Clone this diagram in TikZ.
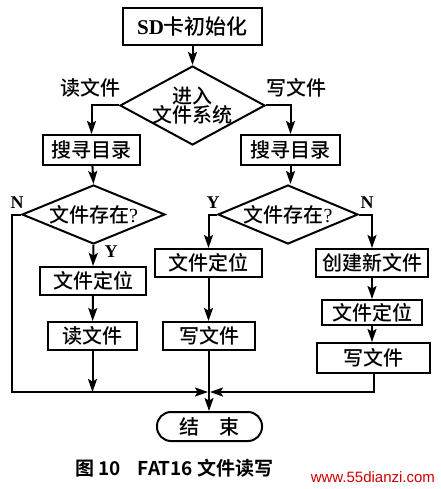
\documentclass[tikz,border=0pt]{standalone}
\usepackage{fontspec}
\setmainfont{Liberation Serif}
\newfontfamily\cjk{Noto Sans CJK SC Medium}
\newfontfamily\cjkb{Noto Sans CJK SC Bold}
\newfontfamily\lsans{Liberation Sans}
\usetikzlibrary{shapes.geometric,arrows.meta}
\begin{document}
\begin{tikzpicture}[x=1pt,y=-1pt,
  line width=2pt,
  every node/.style={inner sep=0pt},
  box/.style={draw,rectangle,font=\cjk\fontsize{20}{22}\selectfont},
  dia/.style={draw,diamond,minimum width=#1},
  lbl/.style={font=\cjk\fontsize{20}{22}\selectfont},
  yn/.style={font=\rmfamily\bfseries\fontsize{18}{19}\selectfont},
  arr/.style={-{Stealth[length=13pt,width=9pt,inset=2.5pt]}}]
\useasboundingbox (0,0) rectangle (440,489);
\node[box,minimum width=139pt,minimum height=37pt] (init) at (192.5,26.5)
  {\fontsize{21}{22}\selectfont{\rmfamily\bfseries SD}卡初始化};
\node[dia=145pt,minimum height=79pt,
  label={[lbl,align=center]center:进入\\[-3pt]文件系统}] (sys) at (192.5,105.5) {};
\node[box,minimum width=97pt,minimum height=30pt] (s1) at (91.5,150) {搜寻目录};
\node[box,minimum width=99pt,minimum height=30pt] (s2) at (290.5,150) {搜寻目录};
\node[dia=143pt,minimum height=59pt,
  label={[lbl]center:文件存在{\rmfamily ?}}] (e1) at (93.5,214.5) {};
\node[dia=140pt,minimum height=59pt,
  label={[lbl]center:文件存在{\rmfamily ?}}] (e2) at (288,214.5) {};
\node[box,minimum width=106pt,minimum height=28pt] (p1) at (93,281) {文件定位};
\node[box,minimum width=89pt,minimum height=28pt] (r1) at (92.5,336) {读文件};
\node[box,minimum width=107pt,minimum height=28pt] (p2) at (208.5,263) {文件定位};
\node[box,minimum width=92pt,minimum height=28pt] (w2) at (209,336) {写文件};
\node[box,minimum width=112pt,minimum height=28pt] (c3) at (372,263) {创建新文件};
\node[box,minimum width=100pt,minimum height=25pt] (p3) at (372,312.5) {文件定位};
\node[box,minimum width=113pt,minimum height=30pt] (w3) at (373.5,358) {写文件};
\node[box,rounded corners=14pt,minimum width=105pt,minimum height=29pt] (end) at (209.5,426.5) {结\hspace{1em}束};
\coordinate (j) at (209,392);
\coordinate (bl) at (12,392);
% labels
\node[lbl] (lr) at (90,88) {读文件};
\node[lbl] (lw) at (296,88) {写文件};
\node[yn] (n1) at (17,203) {N};
\node[yn] (y1) at (111,252) {Y};
\node[yn] (y2) at (213,203) {Y};
\node[yn] (n2) at (367,203) {N};
% connectors
\draw[arr] (init) -- (sys.north);
\draw[arr] (sys.west) -| (s1.north);
\draw[arr] (sys.east) -| (s2.north);
\draw[arr] (s1) -- (e1.north);
\draw[arr] (s2.south) -- (s2.south |- e2.north);
\draw[arr] (e1.south) -- (p1.north);
\draw[arr] (p1) -- (r1);
\draw[arr] (r1.south) -- (r1.south |- j);
\draw[arr] (e1.west) -| (bl) -- ([xshift=-1pt]j);
\draw[arr] (e2.west) -| (p2.north);
\draw[arr] (e2.east) -| (c3.north);
\draw[arr] (p2.south) -- (p2.south |- w2.north);
\draw[arr] (w2.south) -- (w2.south |- end.north);
\draw[arr] (c3) -- (p3);
\draw[arr] (p3.south) -- (p3.south |- w3.north);
\draw[arr] (w3.south) |- ([xshift=1pt]j);
% caption
\node[anchor=west,font=\cjkb\fontsize{19}{20}\selectfont] (cap) at (74,468) {图 10\hspace{0.9em}FAT16 文件读写};
\node[anchor=east,text=red!80!black,font=\lsans\fontsize{15}{16}\selectfont] (wm) at (436,477) {www.55dianzi.com};
\end{tikzpicture}
\end{document}
